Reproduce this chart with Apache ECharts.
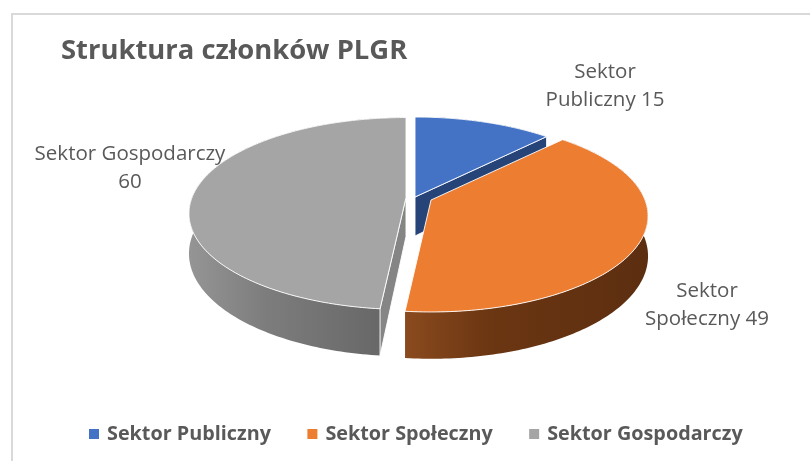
<!DOCTYPE html>
<html>
<head>
<meta charset="utf-8">
<style>
  html, body { margin: 0; padding: 0; background: #fff; }
  #chart { width: 810px; height: 461px; }
</style>
<script src="https://cdn.jsdelivr.net/npm/echarts@6/dist/echarts.min.js"></script>
</head>
<body>
<div id="chart"></div>
<script>
const categories = ['Sektor Publiczny', 'Sektor Społeczny', 'Sektor Gospodarczy']
const values = [15, 49, 60]
const labelLines = ['Sektor\nPubliczny ', 'Sektor\nSpołeczny ', 'Sektor Gospodarczy\n']

const topColors = ['#4472c4', '#ed7d31', '#a5a5a5']
const fontFamily = '"Open Sans", "Noto Sans", sans-serif'
const textColor = '#595959'

// sides of the 3D slices
const cutColors = ['#264478', null, '#858585']
const sideStops = [
  ['#264478', '#264478', '#264478'],
  ['#8a4a1e', '#6b3612', '#5c2e10'],
  ['#959595', '#7d7d7d', '#636363']
]

// where each exploded slice has its tip, and where its label goes
const tips = [[415, 197], [431, 200], [406, 197.5]]
const labelPos = [[605, 86], [707, 305], [130, 168]]

const scaleX = 214
const scaleY = 93.3
const persp = 1 / 6
const depth = 39
const total = values.reduce((a, b) => a + b, 0)

// angle is clockwise from 12 o'clock, the table is seen at a slant
const project = (tip, deg, extrude) => {
  const rad = (deg * Math.PI) / 180
  const X = Math.sin(rad)
  const Y = -Math.cos(rad)
  const w = 1 - persp * Y
  return [tip[0] + (scaleX * X) / w, tip[1] + (scaleY * Y) / w + extrude / w]
}

const arc = (tip, from, to, extrude) => {
  const pts = []
  const steps = Math.ceil(to - from)
  for (let i = 0; i <= steps; i++) {
    pts.push(project(tip, from + ((to - from) * i) / steps, extrude))
  }
  return pts
}

const sliceStart = (idx) => (values.slice(0, idx).reduce((a, b) => a + b, 0) / total) * 360

const renderSlice = (idx) => (params, api) => {
  const tip = tips[idx]
  const from = sliceStart(idx)
  const to = from + (api.value(0) / total) * 360
  const edge = { stroke: 'rgba(255,255,255,0.9)', lineWidth: 1 }

  const topArc = arc(tip, from, to, 0)
  const bottomArc = arc(tip, from, to, depth).reverse()
  const xs = topArc.map((p) => p[0])
  const stops = sideStops[idx]

  const children = [
    {
      type: 'polygon',
      shape: { points: topArc.concat(bottomArc) },
      style: {
        fill: {
          type: 'linear', global: true,
          x: Math.min(...xs), y: 0, x2: Math.max(...xs), y2: 0,
          colorStops: [
            { offset: 0, color: stops[0] },
            { offset: 0.35, color: stops[1] },
            { offset: 1, color: stops[2] }
          ]
        }
      }
    }
  ]

  // flat cut face that can be seen from the front of the slice
  if (cutColors[idx]) {
    const cutDeg = idx === 0 ? to : from
    children.push({
      type: 'polygon',
      shape: {
        points: [tip, project(tip, cutDeg, 0), project(tip, cutDeg, depth), [tip[0], tip[1] + depth]]
      },
      style: { fill: cutColors[idx], ...edge }
    })
  }

  children.push({
    type: 'polygon',
    shape: { points: [tip].concat(topArc) },
    style: { fill: topColors[idx], ...edge }
  })

  children.push({
    type: 'text',
    style: {
      x: labelPos[idx][0],
      y: labelPos[idx][1],
      text: labelLines[idx] + api.value(0),
      fill: textColor,
      font: '20.5px ' + fontFamily,
      align: 'center',
      verticalAlign: 'middle',
      lineHeight: 28
    },
    z2: 10
  })

  return { type: 'group', children }
}

const chart = echarts.init(document.getElementById('chart'))

// gray before orange so orange sits over the blue cut face
const drawOrder = [0, 2, 1]

chart.setOption({
  animation: false,
  title: {
    text: 'Struktura członków PLGR',
    left: 56,
    top: 33,
    textStyle: { fontFamily, fontSize: 27.4, fontWeight: 'bold', color: textColor }
  },
  legend: {
    data: categories,
    bottom: 12,
    left: 84,
    icon: 'rect',
    itemWidth: 10,
    itemHeight: 10,
    itemGap: 36.5,
    textStyle: { fontFamily, fontSize: 19.8, fontWeight: 'bold', color: textColor, padding: [0, 0, 0, 3] }
  },
  graphic: [
    {
      type: 'rect',
      shape: { x: 12, y: 14, width: 830, height: 480 },
      style: { fill: 'none', stroke: '#d9d9d9', lineWidth: 2 },
      silent: true,
      z: -1
    }
  ],
  series: drawOrder.map((idx) => ({
    name: categories[idx],
    type: 'custom',
    coordinateSystem: 'none',
    silent: true,
    itemStyle: { color: topColors[idx] },
    renderItem: renderSlice(idx),
    data: [[values[idx]]]
  }))
})
</script>
</body>
</html>
